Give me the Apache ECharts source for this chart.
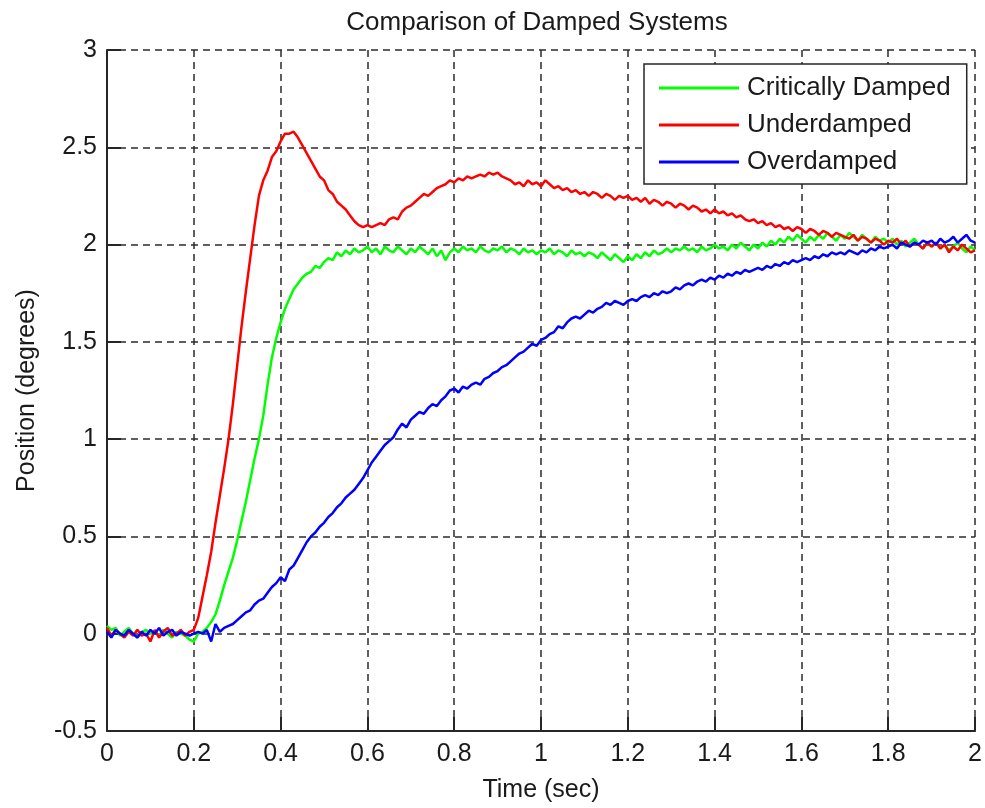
<!DOCTYPE html>
<html>
<head>
<meta charset="utf-8">
<title>Comparison of Damped Systems</title>
<script src="https://cdn.jsdelivr.net/npm/echarts@6/dist/echarts.min.js"></script>
<style>
    html, body { margin: 0; padding: 0; background: #fff; }
    #chart { width: 985px; height: 808px; }
</style>
</head>
<body>
<div id="chart"></div>
<script>
// sample times (sec)
var times = [
    0.00, 0.01, 0.02, 0.03, 0.04, 0.05, 0.06, 0.07, 0.08, 0.09,
    0.10, 0.11, 0.12, 0.13, 0.14, 0.15, 0.16, 0.17, 0.18, 0.19,
    0.20, 0.21, 0.22, 0.23, 0.24, 0.25, 0.26, 0.27, 0.28, 0.29,
    0.30, 0.31, 0.32, 0.33, 0.34, 0.35, 0.36, 0.37, 0.38, 0.39,
    0.40, 0.41, 0.42, 0.43, 0.44, 0.45, 0.46, 0.47, 0.48, 0.49,
    0.50, 0.51, 0.52, 0.53, 0.54, 0.55, 0.56, 0.57, 0.58, 0.59,
    0.60, 0.61, 0.62, 0.63, 0.64, 0.65, 0.66, 0.67, 0.68, 0.69,
    0.70, 0.71, 0.72, 0.73, 0.74, 0.75, 0.76, 0.77, 0.78, 0.79,
    0.80, 0.81, 0.82, 0.83, 0.84, 0.85, 0.86, 0.87, 0.88, 0.89,
    0.90, 0.91, 0.92, 0.93, 0.94, 0.95, 0.96, 0.97, 0.98, 0.99,
    1.00, 1.01, 1.02, 1.03, 1.04, 1.05, 1.06, 1.07, 1.08, 1.09,
    1.10, 1.11, 1.12, 1.13, 1.14, 1.15, 1.16, 1.17, 1.18, 1.19,
    1.20, 1.21, 1.22, 1.23, 1.24, 1.25, 1.26, 1.27, 1.28, 1.29,
    1.30, 1.31, 1.32, 1.33, 1.34, 1.35, 1.36, 1.37, 1.38, 1.39,
    1.40, 1.41, 1.42, 1.43, 1.44, 1.45, 1.46, 1.47, 1.48, 1.49,
    1.50, 1.51, 1.52, 1.53, 1.54, 1.55, 1.56, 1.57, 1.58, 1.59,
    1.60, 1.61, 1.62, 1.63, 1.64, 1.65, 1.66, 1.67, 1.68, 1.69,
    1.70, 1.71, 1.72, 1.73, 1.74, 1.75, 1.76, 1.77, 1.78, 1.79,
    1.80, 1.81, 1.82, 1.83, 1.84, 1.85, 1.86, 1.87, 1.88, 1.89,
    1.90, 1.91, 1.92, 1.93, 1.94, 1.95, 1.96, 1.97, 1.98, 1.99,
    2.00
];

// Critically Damped (degrees)
var critical = [
    0.04, 0.02, 0.03, -0.01, 0.01, 0.03, 0.00, -0.02, 0.01, 0.02,
    0.00, 0.01, -0.01, 0.02, 0.00, -0.02, 0.01, 0.00, -0.01, -0.03,
    -0.04, 0.00, 0.01, 0.03, 0.06, 0.10, 0.17, 0.25, 0.32, 0.39,
    0.48, 0.58, 0.68, 0.79, 0.90, 1.00, 1.12, 1.28, 1.42, 1.52,
    1.60, 1.67, 1.72, 1.77, 1.80, 1.83, 1.85, 1.86, 1.89, 1.88,
    1.91, 1.93, 1.92, 1.96, 1.94, 1.97, 1.95, 1.98, 1.96, 1.97,
    1.99, 1.96, 1.98, 1.95, 1.99, 1.97, 1.96, 1.99, 1.97, 1.95,
    1.98, 1.96, 1.99, 1.97, 1.95, 1.98, 1.94, 1.97, 1.92, 1.96,
    1.98, 1.96, 1.99, 1.97, 1.98, 1.96, 1.99, 1.97, 1.96, 1.98,
    1.97, 1.99, 1.96, 1.98, 1.97, 1.95, 1.98, 1.96, 1.97, 1.95,
    1.97, 1.96, 1.98, 1.95, 1.97, 1.96, 1.94, 1.97, 1.95, 1.96,
    1.94, 1.96, 1.95, 1.93, 1.96, 1.94, 1.92, 1.95, 1.93, 1.91,
    1.94, 1.92, 1.95, 1.93, 1.96, 1.94, 1.97, 1.95, 1.96, 1.98,
    1.96, 1.98, 1.97, 1.99, 1.97, 1.98, 1.96, 1.99, 1.97, 1.98,
    2.00, 1.98, 1.99, 1.97, 2.00, 1.98, 2.01, 1.99, 1.97, 2.00,
    1.98, 2.01, 1.99, 2.02, 2.00, 2.03, 2.01, 2.04, 2.02, 2.05,
    2.03, 2.01, 2.04, 2.02, 2.05, 2.03, 2.06, 2.04, 2.02, 2.05,
    2.03, 2.06, 2.04, 2.02, 2.05, 2.03, 2.01, 2.04, 2.02, 2.03,
    2.01, 2.03, 2.00, 2.02, 1.99, 2.01, 2.03, 2.00, 1.98, 2.01,
    1.99, 2.01, 1.98, 2.00, 1.97, 1.99, 2.01, 1.98, 1.96, 1.99,
    1.97
];

// Underdamped (degrees)
var under = [
    0.03, -0.01, 0.02, 0.00, -0.02, 0.01, -0.01, 0.02, -0.01, 0.00,
    -0.04, 0.02, -0.02, 0.01, 0.03, -0.01, 0.00, 0.02, -0.01, 0.01,
    0.02, 0.08, 0.19, 0.30, 0.42, 0.57, 0.71, 0.85, 1.00, 1.18,
    1.38, 1.58, 1.76, 1.93, 2.10, 2.25, 2.33, 2.38, 2.45, 2.48,
    2.53, 2.57, 2.57, 2.58, 2.55, 2.51, 2.47, 2.43, 2.39, 2.35,
    2.33, 2.28, 2.26, 2.22, 2.20, 2.18, 2.15, 2.12, 2.10, 2.09,
    2.10, 2.09, 2.10, 2.11, 2.10, 2.13, 2.14, 2.13, 2.17, 2.19,
    2.20, 2.22, 2.24, 2.26, 2.25, 2.27, 2.29, 2.30, 2.31, 2.33,
    2.32, 2.34, 2.33, 2.35, 2.34, 2.35, 2.36, 2.35, 2.37, 2.36,
    2.37, 2.35, 2.34, 2.33, 2.31, 2.32, 2.30, 2.33, 2.31, 2.32,
    2.30, 2.33, 2.31, 2.29, 2.30, 2.28, 2.29, 2.27, 2.28, 2.26,
    2.27, 2.25, 2.27, 2.26, 2.24, 2.26, 2.25, 2.23, 2.25, 2.24,
    2.25, 2.23, 2.24, 2.22, 2.24, 2.21, 2.23, 2.22, 2.20, 2.22,
    2.21, 2.19, 2.21, 2.20, 2.18, 2.20, 2.19, 2.17, 2.18, 2.16,
    2.18, 2.16, 2.17, 2.15, 2.16, 2.14, 2.15, 2.13, 2.12, 2.13,
    2.11, 2.12, 2.10, 2.11, 2.09, 2.10, 2.08, 2.09, 2.07, 2.09,
    2.08, 2.06, 2.08, 2.07, 2.05, 2.07, 2.06, 2.04, 2.06, 2.05,
    2.04, 2.03, 2.05, 2.02, 2.04, 2.03, 2.01, 2.03, 2.02, 2.00,
    2.02, 2.01, 2.03, 2.00, 2.02, 1.99, 2.01, 2.00, 1.98, 2.01,
    1.99, 2.01, 1.98, 2.00, 1.96, 1.99, 1.97, 2.00, 1.98, 1.96,
    1.97
];

// Overdamped (degrees)
var over = [
    0.01, -0.02, 0.02, 0.00, -0.01, 0.02, 0.00, -0.02, 0.01, -0.01,
    0.02, 0.00, 0.03, -0.01, 0.01, 0.02, -0.01, 0.01, 0.00, -0.01,
    0.00, 0.01, 0.00, 0.02, -0.04, 0.05, 0.01, 0.03, 0.04, 0.05,
    0.07, 0.09, 0.11, 0.12, 0.15, 0.17, 0.18, 0.21, 0.24, 0.26,
    0.29, 0.27, 0.33, 0.35, 0.39, 0.43, 0.47, 0.50, 0.52, 0.55,
    0.57, 0.60, 0.62, 0.65, 0.67, 0.70, 0.72, 0.74, 0.77, 0.80,
    0.84, 0.88, 0.91, 0.94, 0.97, 0.99, 1.01, 1.05, 1.08, 1.06,
    1.10, 1.12, 1.14, 1.13, 1.16, 1.18, 1.17, 1.20, 1.22, 1.25,
    1.26, 1.24, 1.27, 1.26, 1.28, 1.29, 1.28, 1.31, 1.32, 1.34,
    1.35, 1.37, 1.38, 1.40, 1.42, 1.44, 1.45, 1.47, 1.49, 1.48,
    1.51, 1.52, 1.54, 1.55, 1.58, 1.57, 1.60, 1.62, 1.63, 1.62,
    1.64, 1.66, 1.65, 1.67, 1.68, 1.70, 1.69, 1.71, 1.70, 1.69,
    1.71, 1.72, 1.71, 1.73, 1.74, 1.73, 1.75, 1.74, 1.76, 1.75,
    1.76, 1.78, 1.77, 1.79, 1.80, 1.79, 1.81, 1.82, 1.81, 1.83,
    1.82, 1.84, 1.83, 1.85, 1.84, 1.86, 1.85, 1.87, 1.86, 1.87,
    1.88, 1.87, 1.89, 1.88, 1.90, 1.89, 1.91, 1.90, 1.92, 1.91,
    1.92, 1.93, 1.92, 1.94, 1.93, 1.95, 1.94, 1.96, 1.95, 1.96,
    1.95, 1.97, 1.96, 1.95, 1.97, 1.96, 1.98, 1.97, 1.99, 1.98,
    1.99, 2.00, 1.98, 2.01, 2.00, 1.99, 2.01, 2.00, 2.02, 2.01,
    2.02, 2.00, 2.03, 2.01, 2.02, 2.04, 2.01, 2.03, 2.05, 2.02,
    2.01
];

var seriesNames = ['Critically Damped', 'Underdamped', 'Overdamped'];
var seriesColors = ['#00ff00', '#ff0000', '#0000ff'];

(function(){
    var myChart = echarts.init(document.getElementById('chart'));
    var font = 'Liberation Sans, Arial, sans-serif';
    var textColor = '#1a1a1a';
    var axisColor = '#262626';

    function pairs(values) {
        return times.map(function (t, i) { return [t, values[i]]; });
    }

    var gridLine = {
        show: true,
        lineStyle: { color: '#2b2b2b', width: 1.5, type: [7, 5] }
    };

    var option = {
        animation: false,
        backgroundColor: '#fff',
        color: seriesColors,
        title: {
            text: 'Comparison of Damped Systems',
            left: 537,
            top: 10,
            textAlign: 'center',
            padding: 0,
            textStyle: { fontFamily: font, fontSize: 26, fontWeight: 'normal', color: textColor }
        },
        legend: {
            left: 644,
            top: 64,
            orient: 'vertical',
            icon: 'rect',
            itemWidth: 80,
            itemHeight: 3,
            itemGap: 11,
            padding: [11, 16, 9, 15],
            backgroundColor: '#fff',
            borderColor: axisColor,
            borderWidth: 1.5,
            borderRadius: 0,
            data: seriesNames,
            textStyle: { fontFamily: font, fontSize: 26, lineHeight: 26, color: textColor, padding: [0, 0, 0, 3] }
        },
        grid: {
            left: 107,
            right: 8,
            top: 50,
            bottom: 74,
            containLabel: false
        },
        xAxis: {
            type: 'value',
            min: 0,
            max: 2,
            interval: 0.2,
            name: 'Time (sec)',
            nameLocation: 'middle',
            nameGap: 47,
            nameTextStyle: { fontFamily: font, fontSize: 25, color: textColor },
            axisLine: { show: true, onZero: false, lineStyle: { color: axisColor, width: 2 } },
            axisTick: { show: true, inside: true, length: 14, lineStyle: { color: axisColor, width: 2 } },
            axisLabel: { fontFamily: font, fontSize: 25, color: textColor, margin: 11 },
            splitLine: gridLine
        },
        yAxis: {
            type: 'value',
            min: -0.5,
            max: 3,
            interval: 0.5,
            name: 'Position (degrees)',
            nameLocation: 'middle',
            nameGap: 67,
            nameTextStyle: { fontFamily: font, fontSize: 25, color: textColor },
            axisLine: { show: true, onZero: false, lineStyle: { color: axisColor, width: 2 } },
            axisTick: { show: true, inside: true, length: 14, lineStyle: { color: axisColor, width: 2 } },
            axisLabel: { fontFamily: font, fontSize: 25, color: textColor, margin: 10 },
            splitLine: gridLine
        },
        series: seriesNames.map(function (name, k) {
            return {
                name: name,
                type: 'line',
                symbol: 'none',
                showSymbol: false,
                data: pairs([critical, under, over][k]),
                lineStyle: { width: 2.5, color: seriesColors[k] },
                z: 2 + k
            };
        })
    };

    myChart.setOption(option);
    window.addEventListener('resize', function () {
        myChart.resize();
    });
})();
</script>
</body>
</html>
